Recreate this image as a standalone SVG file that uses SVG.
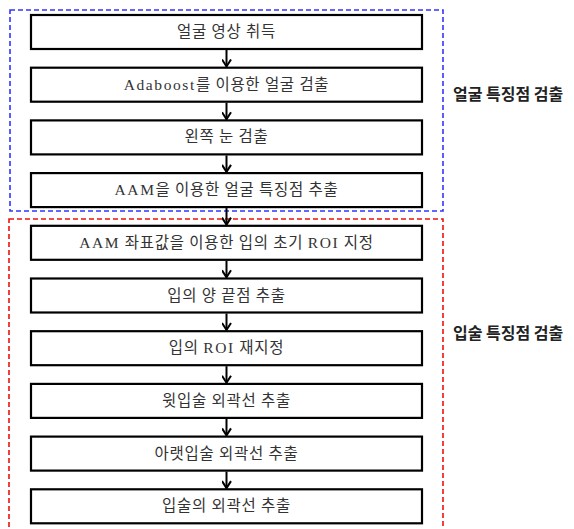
<svg xmlns="http://www.w3.org/2000/svg" width="574" height="529" viewBox="0 0 574 529">
<defs>
<style>
.box{fill:#fff;stroke:#000;stroke-width:2.2}
.t{font-family:"Liberation Serif","Noto Sans CJK KR",serif;font-size:15.5px;fill:#333;text-anchor:middle;letter-spacing:0.7px}
.lat{letter-spacing:1.6px}
.lab{font-family:"Noto Sans CJK KR","Liberation Sans",sans-serif;font-size:16px;font-weight:bold;fill:#222}
.conn{stroke:#000;stroke-width:2;fill:none}
</style>
<marker id="ah" markerWidth="10" markerHeight="10" refX="8" refY="5" orient="auto" markerUnits="userSpaceOnUse" viewBox="0 0 10 10">
<path d="M1,0.5 L8,5 L1,9.5" fill="none" stroke="#000" stroke-width="2"/>
</marker>
</defs>
<rect width="574" height="529" fill="#fff"/>
<g id="group-face">
<rect x="10" y="10" width="433" height="201" fill="none" stroke="#3333ff" stroke-width="1.6" stroke-dasharray="5,3"/>
<text class="lab" x="453" y="100">얼굴 특징점 검출</text>
</g>
<g id="group-lip">
<rect x="9" y="219" width="434" height="320" fill="none" stroke="#ee1111" stroke-width="1.6" stroke-dasharray="5,3"/>
<text class="lab" x="453" y="339">입술 특징점 검출</text>
</g>
<g id="n1"><rect class="box" x="31" y="15" width="391" height="34"/><text class="t" x="226.5" y="37">얼굴 영상 취득</text></g>
<g id="n2"><rect class="box" x="31" y="67.7" width="391" height="34"/><text class="t" x="226.5" y="89.7"><tspan class="lat">Adaboost</tspan>를 이용한 얼굴 검출</text></g>
<g id="n3"><rect class="box" x="31" y="120.4" width="391" height="34"/><text class="t" x="226.5" y="142.4">왼쪽 눈 검출</text></g>
<g id="n4"><rect class="box" x="31" y="173.1" width="391" height="34"/><text class="t" x="226.5" y="195.1"><tspan class="lat">AAM</tspan>을 이용한 얼굴 특징점 추출</text></g>
<g id="n5"><rect class="box" x="31" y="225.8" width="391" height="34"/><text class="t" x="226.5" y="247.8"><tspan class="lat">AAM</tspan> 좌표값을 이용한 입의 초기 <tspan class="lat">ROI</tspan> 지정</text></g>
<g id="n6"><rect class="box" x="31" y="278.5" width="391" height="34"/><text class="t" x="226.5" y="300.5">입의 양 끝점 추출</text></g>
<g id="n7"><rect class="box" x="31" y="331.2" width="391" height="34"/><text class="t" x="226.5" y="353.2">입의 <tspan class="lat">ROI</tspan> 재지정</text></g>
<g id="n8"><rect class="box" x="31" y="383.9" width="391" height="34"/><text class="t" x="226.5" y="405.9">윗입술 외곽선 추출</text></g>
<g id="n9"><rect class="box" x="31" y="436.6" width="391" height="34"/><text class="t" x="226.5" y="458.6">아랫입술 외곽선 추출</text></g>
<g id="n10"><rect class="box" x="31" y="489.3" width="391" height="34"/><text class="t" x="226.5" y="511.3">입술의 외곽선 추출</text></g>
<g id="connectors">
<line class="conn" x1="226.5" y1="50" x2="226.5" y2="66.5" marker-end="url(#ah)"/>
<line class="conn" x1="226.5" y1="102.7" x2="226.5" y2="119.2" marker-end="url(#ah)"/>
<line class="conn" x1="226.5" y1="155.4" x2="226.5" y2="171.9" marker-end="url(#ah)"/>
<line class="conn" x1="226.5" y1="208.1" x2="226.5" y2="224.6" marker-end="url(#ah)"/>
<line class="conn" x1="226.5" y1="260.8" x2="226.5" y2="277.3" marker-end="url(#ah)"/>
<line class="conn" x1="226.5" y1="313.5" x2="226.5" y2="330" marker-end="url(#ah)"/>
<line class="conn" x1="226.5" y1="366.2" x2="226.5" y2="382.7" marker-end="url(#ah)"/>
<line class="conn" x1="226.5" y1="418.9" x2="226.5" y2="435.4" marker-end="url(#ah)"/>
<line class="conn" x1="226.5" y1="471.6" x2="226.5" y2="488.1" marker-end="url(#ah)"/>
</g>
</svg>
